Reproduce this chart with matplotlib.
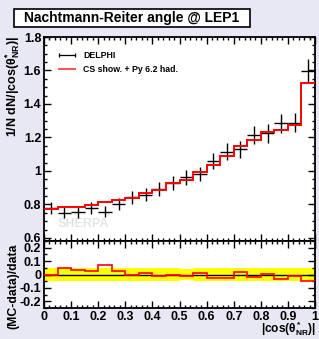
import numpy as np
import matplotlib
matplotlib.use("Agg")
import matplotlib.pyplot as plt
from matplotlib.lines import Line2D
from matplotlib.patches import Rectangle
from matplotlib.ticker import MultipleLocator

plt.rcParams['font.family'] = ['Liberation Sans', 'DejaVu Sans']
plt.rcParams['font.weight'] = 'bold'
plt.rcParams['mathtext.fontset'] = 'custom'
plt.rcParams['mathtext.rm'] = 'Liberation Sans:bold'
plt.rcParams['mathtext.it'] = 'Liberation Sans:bold'
plt.rcParams['mathtext.bf'] = 'Liberation Sans:bold'

# ---- data ----
bin_edges = [0.0, 0.05, 0.10, 0.15, 0.20, 0.25, 0.30, 0.35, 0.40, 0.45, 0.50,
             0.55, 0.60, 0.65, 0.70, 0.75, 0.80, 0.85, 0.90, 0.95, 1.0]
data_vals = [0.777, 0.751, 0.755, 0.777, 0.757, 0.803, 0.843, 0.857, 0.893, 0.926,
             0.962, 0.982, 1.060, 1.115, 1.130, 1.215, 1.225, 1.285, 1.288, 1.597]
data_errs = [0.035, 0.034, 0.034, 0.035, 0.034, 0.036, 0.038, 0.039, 0.040, 0.042,
             0.043, 0.044, 0.048, 0.050, 0.051, 0.055, 0.055, 0.058, 0.058, 0.072]
mc_vals = [0.774, 0.785, 0.783, 0.796, 0.812, 0.825, 0.840, 0.866, 0.886, 0.926,
           0.948, 0.994, 1.034, 1.087, 1.147, 1.188, 1.231, 1.244, 1.273, 1.525]

title = "Nachtmann-Reiter angle @ LEP1"
label_data = "DELPHI"
label_mc = "CS show. + Py 6.2 had."

edges = np.array(bin_edges)
centers = 0.5 * (edges[:-1] + edges[1:])
halfw = 0.5 * np.diff(edges)
d = np.array(data_vals)
de = np.array(data_errs)
m = np.array(mc_vals)
ratio = (m - d) / d
rel_err = de / d

W, H = 319, 339
fig = plt.figure(figsize=(W / 100, H / 100), dpi=100)
fig.patch.set_facecolor('#e8e8f4')

def fx(px):
    return px / W

def fy(py):
    return 1 - py / H

L, R = 44, 315
ax = fig.add_axes([fx(L), fy(241), fx(R) - fx(L), fy(37) - fy(241)])
axr = fig.add_axes([fx(L), fy(308), fx(R) - fx(L), fy(241) - fy(308)])

# main panel
ax.errorbar(centers, d, xerr=halfw, yerr=de, fmt='none', ecolor='black',
            elinewidth=1.0, capsize=0, zorder=3)
ax.stairs(m, edges, color='red', lw=1.4, baseline=None, zorder=4)
ax.set_xlim(0, 1)
ax.set_ylim(0.582, 1.8)
ax.set_yticks([0.6, 0.8, 1.0, 1.2, 1.4, 1.6, 1.8])
ax.set_yticklabels(['0.6', '0.8', '1', '1.2', '1.4', '1.6', '1.8'])
ax.yaxis.set_minor_locator(MultipleLocator(0.05))
ax.xaxis.set_major_locator(MultipleLocator(0.1))
ax.xaxis.set_minor_locator(MultipleLocator(0.02))
ax.tick_params(axis='x', labelbottom=False)
ax.text(0.05, 0.085, 'SHERPA', color='#e4e4e4', fontsize=9, fontweight='bold',
        ha='left', va='center', zorder=1, transform=ax.transAxes)

h1 = Line2D([0, 1], [0, 0], color='black', lw=0.9, marker='|', markersize=3,
            markeredgewidth=0.9)
h2 = Line2D([0, 1], [0, 0], color='#ff5050', lw=1.4)
leg = ax.legend([h1, h2], [label_data, label_mc], loc='upper left',
                bbox_to_anchor=(0.045, 0.93), frameon=False, fontsize=6.3,
                handlelength=2.4, handletextpad=0.7, numpoints=2,
                labelspacing=0.55, borderaxespad=0.0, borderpad=0.0)

# ratio panel
axr.fill_between(edges, np.append(-rel_err, -rel_err[-1]), np.append(rel_err, rel_err[-1]),
                 step='post', color='#ffff00', lw=0, zorder=1)
axr.axhline(0, color='black', lw=1.0, zorder=2)
axr.stairs(ratio, edges, color='red', lw=1.2, baseline=None, zorder=3)
axr.set_xlim(0, 1)
axr.set_ylim(-0.25, 0.25)
axr.set_yticks([-0.2, -0.1, 0, 0.1, 0.2])
axr.set_yticklabels(['-0.2', '-0.1', '0', '0.1', '0.2'])
axr.yaxis.set_minor_locator(MultipleLocator(0.05))
axr.xaxis.set_minor_locator(MultipleLocator(0.02))
axr.set_xticks(np.round(np.arange(0, 1.01, 0.1), 1))
axr.set_xticklabels(['0', '0.1', '0.2', '0.3', '0.4', '0.5', '0.6', '0.7', '0.8', '0.9', '1'])

for a in (ax, axr):
    a.set_facecolor('white')
    for s in a.spines.values():
        s.set_linewidth(1.3)
    a.tick_params(which='both', direction='in', top=True, right=True,
                  labelsize=9, width=1.0)
    a.tick_params(which='major', length=5, pad=2)
    a.tick_params(which='minor', length=2.5)
axr.tick_params(axis='x', pad=2)

# labels
fig.text(fx(13), fy(36), r'1/N dN/|cos($\theta^{*}_{\rm NR}$)|', rotation=90,
         ha='center', va='top', fontsize=9, fontweight='bold')
fig.text(fx(13), fy(286), '(MC-data)/data', rotation=90,
         ha='center', va='center', fontsize=8.8, fontweight='bold')
fig.text(fx(316), fy(338.5), r'|cos($\theta^{*}_{\rm NR}$)|', ha='right', va='bottom',
         fontsize=8.6, fontweight='bold')

# title box
fig.patches.append(Rectangle((fx(14), fy(27)), fx(250) - fx(14), fy(9) - fy(27),
                             transform=fig.transFigure, facecolor='white',
                             edgecolor='black', lw=1.2))
fig.text(fx(132), fy(18), title, ha='center', va='center', fontsize=10,
         fontweight='bold')

fig.savefig('out.png', dpi=100, facecolor=fig.get_facecolor())
